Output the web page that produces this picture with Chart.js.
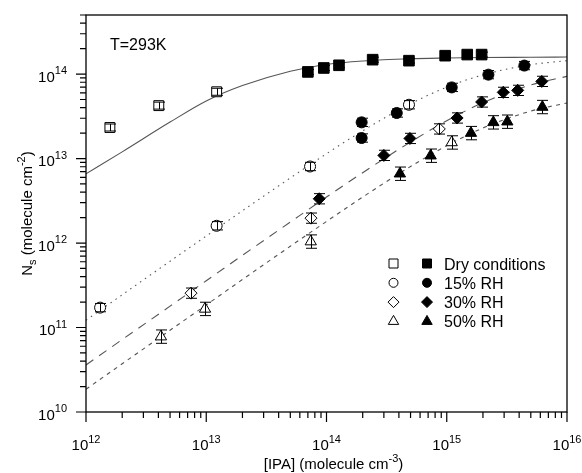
<!DOCTYPE html>
<html>
<head>
<meta charset="utf-8">
<script src="https://cdn.jsdelivr.net/npm/chart.js@4.4.0/dist/chart.umd.min.js"></script>
<style>
  html, body { margin: 0; padding: 0; background: #fff; }
  #wrap { width: 582px; height: 473px; position: relative; }
</style>
</head>
<body>
<div id="wrap"><canvas id="myChart"></canvas></div>
<script>
// points: x = [IPA], y = Ns
var dryOpenX = [1.58e12, 4.03e12, 1.22e13];
var dryOpenY = [2.33e13, 4.23e13, 6.17e13];
var dryX = [7.0e13, 9.5e13, 1.27e14, 2.42e14, 4.85e14, 9.7e14, 1.48e15, 1.95e15];
var dryY = [1.06e14, 1.18e14, 1.27e14, 1.48e14, 1.44e14, 1.65e14, 1.70e14, 1.70e14];

var rh15OpenX = [1.31e12, 1.22e13, 7.3e13, 4.85e14];
var rh15OpenY = [1.72e11, 1.6e12, 8.05e12, 4.33e13];
var rh15X = [1.96e14, 1.96e14, 3.84e14, 1.1e15, 2.22e15, 4.42e15];
var rh15Y = [2.68e13, 1.75e13, 3.46e13, 6.95e13, 9.84e13, 1.26e14];

var rh30OpenX = [7.47e12, 7.43e13, 8.67e14];
var rh30OpenY = [2.55e11, 1.97e12, 2.24e13];
var rh30X = [8.7e13, 3.0e14, 4.94e14, 1.22e15, 1.95e15, 2.95e15, 3.89e15, 6.17e15];
var rh30Y = [3.34e12, 1.09e13, 1.73e13, 3.02e13, 4.67e13, 6.07e13, 6.41e13, 8.19e13];

var rh50OpenX = [4.2e12, 9.77e12, 7.4e13, 1.1e15];
var rh50OpenY = [7.8e10, 1.66e11, 1.04e12, 1.55e13];
var rh50X = [4.08e14, 7.35e14, 1.59e15, 2.44e15, 3.19e15, 6.24e15];
var rh50Y = [6.61e12, 1.08e13, 2.0e13, 2.68e13, 2.73e13, 4.07e13];

// relative size of the error bars
var dryErr = 0.1, rh15Err = 0.12, rh30Err = 0.15, rh50Err = 0.2;

// fitted curves, read at these x values
var fitX = [1e12, 2e12, 5e12, 1e13, 2e13, 5e13, 1e14, 2e14, 5e14, 1e15, 2e15, 5e15, 1e16];
var dryFit = [6.6e12, 1.2e13, 2.7e13, 4.8e13, 7.3e13, 1.08e14, 1.3e14, 1.43e14, 1.52e14, 1.55e14, 1.57e14, 1.58e14, 1.59e14];
var rh15Fit = [1.22e11, 2.44e11, 6.09e11, 1.21e12, 2.41e12, 5.89e12, 1.14e13, 2.13e13, 4.45e13, 6.99e13, 9.78e13, 1.29e14, 1.44e14];
var rh30Fit = [3.6e10, 7.2e10, 1.79e11, 3.58e11, 7.15e11, 1.77e12, 3.5e12, 6.8e12, 1.57e13, 2.8e13, 4.59e13, 7.44e13, 9.4e13];
var rh50Fit = [1.86e10, 3.72e10, 9.29e10, 1.85e11, 3.7e11, 9.16e11, 1.8e12, 3.5e12, 8.05e12, 1.42e13, 2.3e13, 3.65e13, 4.54e13];

// axis ticks (powers of ten) and legend
var xTickExp = [12, 13, 14, 15, 16];
var yTickExp = [10, 11, 12, 13, 14];
var legendLabels = ['Dry conditions', '15% RH', '30% RH', '50% RH'];
var legendStyles = ['rect', 'circle', 'rectRot', 'triangle'];

var FONT = '"Liberation Sans", Arial, sans-serif';

function pts(xs, ys) {
  return xs.map(function (x, i) { return { x: x, y: ys[i] }; });
}

function fitSet(ys, dash) {
  return {
    type: 'line', data: pts(fitX, ys), borderColor: '#555', borderWidth: 1.1,
    borderDash: dash, pointRadius: 0, fill: false,
    cubicInterpolationMode: 'monotone', order: 2
  };
}

function markSet(xs, ys, style, r, open, err) {
  return {
    type: 'scatter', data: pts(xs, ys), pointStyle: style,
    pointRadius: r, pointHoverRadius: r,
    pointBackgroundColor: open ? '#fff' : '#000',
    pointBorderColor: '#000', pointBorderWidth: 1,
    err: err, order: 1
  };
}

// simple marker for the legend
function symbol(ctx, style, x, y, r, open) {
  ctx.beginPath();
  if (style === 'rect') {
    ctx.rect(x - r, y - r, 2 * r, 2 * r);
  } else if (style === 'circle') {
    ctx.arc(x, y, r, 0, Math.PI * 2);
  } else if (style === 'rectRot') {
    r += 1;
    ctx.moveTo(x, y - r); ctx.lineTo(x + r, y); ctx.lineTo(x, y + r); ctx.lineTo(x - r, y);
    ctx.closePath();
  } else {
    r += 1.5;
    ctx.moveTo(x, y - r);
    ctx.lineTo(x + r * 0.866, y + r / 2);
    ctx.lineTo(x - r * 0.866, y + r / 2);
    ctx.closePath();
  }
  ctx.fillStyle = open ? '#fff' : '#000';
  ctx.fill();
  ctx.strokeStyle = '#000';
  ctx.lineWidth = 1;
  ctx.stroke();
}

// text made of pieces: s = 0 normal, 1 superscript, -1 subscript
function richWidth(ctx, parts, size) {
  var w = 0;
  parts.forEach(function (p) {
    ctx.font = (p.s ? Math.round(size * 0.72) : size) + 'px ' + FONT;
    w += ctx.measureText(p.t).width;
  });
  return w;
}

function richText(ctx, parts, size, x, y) {
  var cx = x;
  parts.forEach(function (p) {
    var sz = p.s ? Math.round(size * 0.72) : size;
    ctx.font = sz + 'px ' + FONT;
    var dy = p.s === 1 ? -size * 0.48 : (p.s === -1 ? size * 0.28 : 0);
    ctx.fillText(p.t, cx, y + dy);
    cx += ctx.measureText(p.t).width;
  });
}

var decor = {
  id: 'decor',
  afterDatasetsDraw: function (chart) {
    var ctx = chart.ctx, a = chart.chartArea;
    var xs = chart.scales.x, ys = chart.scales.y;
    ctx.save();
    ctx.strokeStyle = '#000';
    ctx.fillStyle = '#000';

    // error bars
    ctx.lineWidth = 1;
    chart.data.datasets.forEach(function (ds) {
      if (!ds.err) return;
      ds.data.forEach(function (p) {
        var px = Math.round(xs.getPixelForValue(p.x)) + 0.5;
        var y1 = ys.getPixelForValue(p.y * (1 + ds.err));
        var y2 = ys.getPixelForValue(p.y / (1 + ds.err));
        ctx.beginPath();
        ctx.moveTo(px, y1); ctx.lineTo(px, y2);
        ctx.moveTo(px - 5.5, y1); ctx.lineTo(px + 5.5, y1);
        ctx.moveTo(px - 5.5, y2); ctx.lineTo(px + 5.5, y2);
        ctx.stroke();
      });
    });

    // frame
    ctx.lineWidth = 1.3;
    ctx.strokeRect(a.left, a.top, a.right - a.left, a.bottom - a.top);

    // ticks
    ctx.lineWidth = 1.2;
    ctx.beginPath();
    xTickExp.forEach(function (e) {
      for (var k = 1; k <= 9; k++) {
        var v = k * Math.pow(10, e);
        if (v > xs.max * 1.0001) break;
        var px = xs.getPixelForValue(v);
        ctx.moveTo(px, a.bottom); ctx.lineTo(px, a.bottom + (k === 1 ? 10 : 6));
      }
    });
    yTickExp.forEach(function (e) {
      for (var k = 1; k <= 9; k++) {
        var v = k * Math.pow(10, e);
        if (v > ys.max * 1.0001) break;
        var py = ys.getPixelForValue(v);
        ctx.moveTo(a.left, py); ctx.lineTo(a.left - (k === 1 ? 10 : 6), py);
      }
    });
    ctx.stroke();

    // tick labels 10^n
    ctx.textAlign = 'left';
    ctx.textBaseline = 'alphabetic';
    xTickExp.forEach(function (e) {
      var parts = [{ t: '10', s: 0 }, { t: String(e), s: 1 }];
      var w = richWidth(ctx, parts, 15);
      richText(ctx, parts, 15, xs.getPixelForValue(Math.pow(10, e)) - w / 2, a.bottom + 38);
    });
    yTickExp.forEach(function (e) {
      var parts = [{ t: '10', s: 0 }, { t: String(e), s: 1 }];
      var w = richWidth(ctx, parts, 15);
      richText(ctx, parts, 15, a.left - 19 - w, ys.getPixelForValue(Math.pow(10, e)) + 7.5);
    });

    // axis titles
    var xt = [{ t: '[IPA] (molecule cm', s: 0 }, { t: '-3', s: 1 }, { t: ')', s: 0 }];
    var wx = richWidth(ctx, xt, 15);
    richText(ctx, xt, 15, (a.left + a.right) / 2 + 7 - wx / 2, 469);

    var yt = [{ t: 'N', s: 0 }, { t: 's', s: -1 }, { t: ' (molecule cm', s: 0 }, { t: '-2', s: 1 }, { t: ')', s: 0 }];
    var wy = richWidth(ctx, yt, 15);
    ctx.save();
    ctx.translate(32, (a.top + a.bottom) / 2);
    ctx.rotate(-Math.PI / 2);
    richText(ctx, yt, 15, -wy / 2, 0);
    ctx.restore();

    // temperature note
    ctx.font = '16px ' + FONT;
    ctx.fillText('T=293K', a.left + 24, a.top + 35);

    // legend
    legendLabels.forEach(function (lab, i) {
      var ly = 263.5 + i * 19.3;
      symbol(ctx, legendStyles[i], 393.5, ly, 4.5, true);
      symbol(ctx, legendStyles[i], 427, ly, 4.5, false);
      ctx.fillStyle = '#000';
      ctx.font = '16px ' + FONT;
      ctx.fillText(lab, 444, ly + 6);
    });

    ctx.restore();
  }
};

var ctx = document.getElementById('myChart');

var myChart = new Chart(ctx, {
  type: 'scatter',
  data: {
    datasets: [
      markSet(dryOpenX, dryOpenY, 'rect', 7, true, dryErr),
      markSet(dryX, dryY, 'rect', 7.5, false, dryErr * 0.7),
      markSet(rh15OpenX, rh15OpenY, 'circle', 5.5, true, rh15Err),
      markSet(rh15X, rh15Y, 'circle', 5.5, false, rh15Err),
      markSet(rh30OpenX, rh30OpenY, 'rectRot', 6, true, rh30Err),
      markSet(rh30X, rh30Y, 'rectRot', 6, false, rh30Err),
      markSet(rh50OpenX, rh50OpenY, 'triangle', 6.5, true, rh50Err),
      markSet(rh50X, rh50Y, 'triangle', 6.5, false, rh50Err),
      fitSet(dryFit, []),
      fitSet(rh15Fit, [1.5, 4.5]),
      fitSet(rh30Fit, [9, 7]),
      fitSet(rh50Fit, [4, 4.5])
    ]
  },
  options: {
    responsive: true,
    maintainAspectRatio: false,
    animation: false,
    layout: { padding: { left: 86, right: 15, top: 15, bottom: 61 } },
    plugins: {
      legend: { display: false },
      tooltip: { enabled: false }
    },
    scales: {
      x: { type: 'logarithmic', min: 1e12, max: 1e16, display: false },
      y: { type: 'logarithmic', min: 1e10, max: 5e14, display: false }
    }
  },
  plugins: [decor]
});
</script>
</body>
</html>
